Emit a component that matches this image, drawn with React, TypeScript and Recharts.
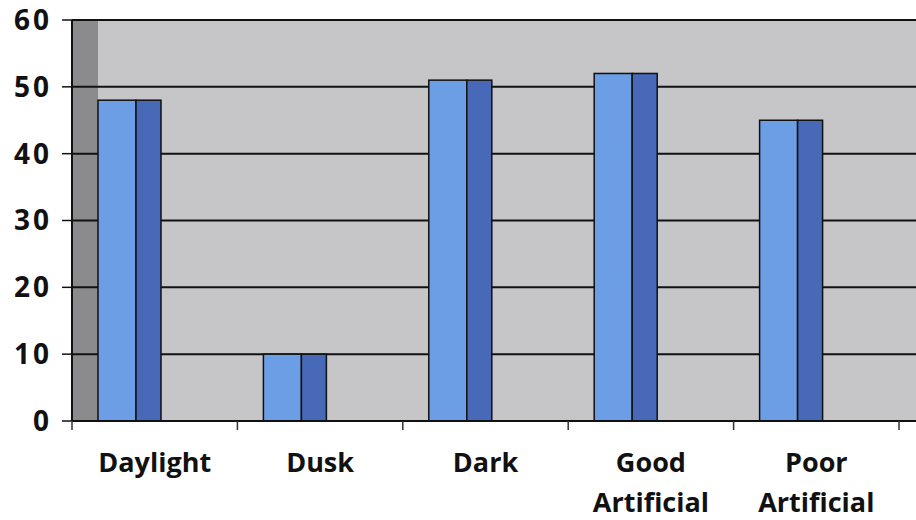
import { Bar, BarChart, CartesianGrid, XAxis, YAxis } from "recharts";

const categories = ["Daylight", "Dusk", "Dark", "Good Artificial", "Poor Artificial"];
const values = [48, 10, 51, 52, 45];
const yTicks = [0, 10, 20, 30, 40, 50, 60];

const data = categories.map((name, i) => ({ name, value: values[i] }));

const W = 916;
const H = 520;
const LEFT = 72;
const TOP = 20;
const XAXIS_H = 99;
const PAD_RIGHT = 17;
const BAND = (W - LEFT - PAD_RIGHT) / categories.length;
const DEPTH = 25; // fake 3d offset, px
const FRONT = 38; // width of the lit face of a bar
const FONT = '"Open Sans", sans-serif';

function Bar3D(props: any) {
  const { x, y, width, height } = props;
  if (!height) return null;
  const left = x - DEPTH;
  return (
    <g>
      <rect x={left} y={y} width={FRONT} height={height} fill="#6c9ee6" stroke="#111" strokeWidth={1.5} />
      <rect x={left + FRONT} y={y} width={width - FRONT} height={height} fill="#4769b8" stroke="#111" strokeWidth={1.5} />
    </g>
  );
}

function CatTick(props: any) {
  const { x, y, payload, index } = props;
  const words = String(payload.value).split(" ");
  const last = index === categories.length - 1;
  return (
    <g>
      <line x1={x - BAND / 2} x2={x - BAND / 2} y1={y} y2={y + 9} stroke="#333" strokeWidth={1.5} />
      {last && <line x1={x + BAND / 2} x2={x + BAND / 2} y1={y} y2={y + 9} stroke="#333" strokeWidth={1.5} />}
      <text x={x} textAnchor="middle" fontFamily={FONT} fontWeight={700} fontSize={27} fill="#111">
        {words.map((w, i) => (
          <tspan key={i} x={x} y={y + 51 + i * 40}>
            {w}
          </tspan>
        ))}
      </text>
    </g>
  );
}

export default function App() {
  return (
    <div style={{ position: "absolute", left: 0, top: 0, width: W, height: H, background: "#fff" }}>
      {/* walls of the 3d box */}
      <div
        style={{
          position: "absolute",
          left: LEFT,
          top: TOP,
          width: W - LEFT,
          height: H - TOP - XAXIS_H,
          background: `linear-gradient(to right, #8b8b8d ${DEPTH + 1}px, #c6c6c8 ${DEPTH + 1}px)`,
        }}
      />
      <div style={{ position: "absolute", left: 0, top: 0 }}>
        <BarChart width={W} height={H} data={data} margin={{ top: TOP, right: 0, left: 0, bottom: 0 }}>
          <CartesianGrid vertical={false} stroke="#111" strokeWidth={2} />
          <XAxis
            dataKey="name"
            type="category"
            interval={0}
            padding={{ left: 0, right: PAD_RIGHT }}
            height={XAXIS_H}
            tickSize={0}
            tickMargin={0}
            tickLine={false}
            axisLine={{ stroke: "#111", strokeWidth: 2 }}
            tick={<CatTick />}
          />
          <YAxis
            width={LEFT}
            domain={[0, 60]}
            ticks={yTicks}
            interval={0}
            tickSize={10}
            tickMargin={10}
            axisLine={{ stroke: "#111", strokeWidth: 2 }}
            tickLine={{ stroke: "#111", strokeWidth: 1.5 }}
            tick={{ fontFamily: FONT, fontWeight: 700, fontSize: 28, fill: "#111", letterSpacing: 3 }}
          />
          <Bar dataKey="value" barSize={63} shape={<Bar3D />} isAnimationActive={false} />
        </BarChart>
      </div>
    </div>
  );
}
